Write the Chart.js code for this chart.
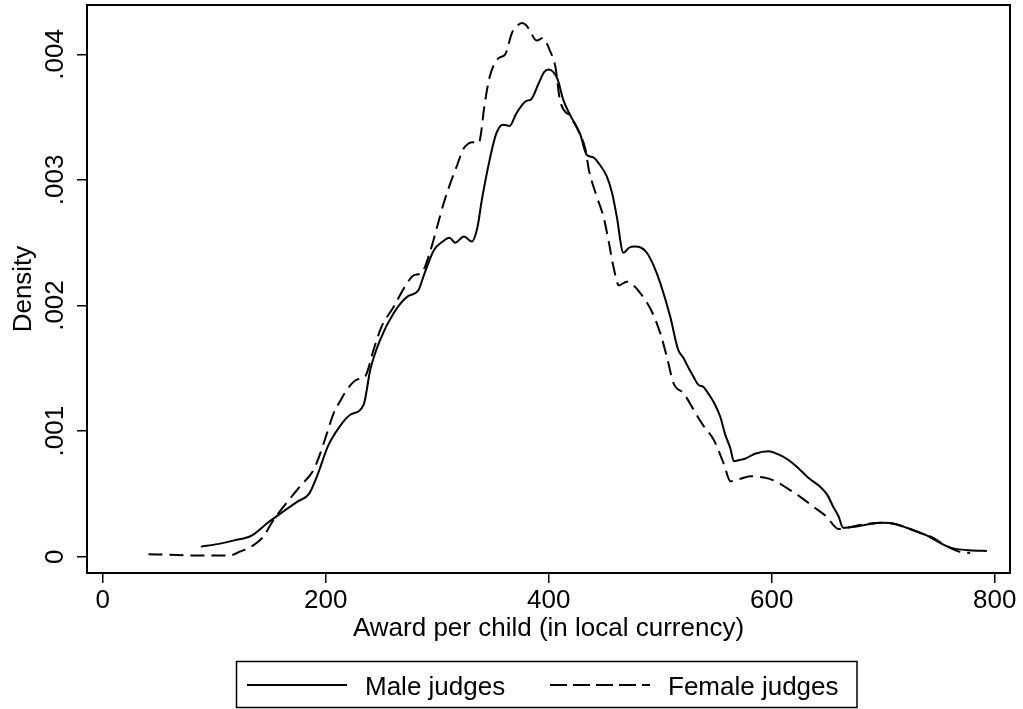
<!DOCTYPE html>
<html>
<head>
<meta charset="utf-8">
<script src="https://cdn.jsdelivr.net/npm/chart.js@4/dist/chart.umd.min.js"></script>
<style>
  html, body { margin: 0; padding: 0; background: #fff; }
  canvas { display: block; }
</style>
</head>
<body>
<canvas id="chart" width="1023" height="709"></canvas>
<script>
// Kernel density of the award per child, by judge gender
const maleX = [88, 103, 118, 134, 148, 162, 175, 185, 193, 202, 212, 222, 234, 240, 249, 261, 273, 283, 288, 297,
  305, 311, 316, 324, 331, 336, 340, 347, 353, 359, 365, 371, 380, 384, 391, 396, 400, 404, 408, 413,
  419, 428, 434, 440, 445, 452, 457, 461, 467, 472, 477, 483, 488, 494, 500, 509, 516, 521, 525, 530,
  534, 539, 543, 548, 554, 558, 563, 566, 571, 576, 585, 597, 607, 615, 622, 634, 643, 650, 655, 660,
  664, 676, 688, 700, 711, 721, 730, 739, 745, 751, 758, 766, 780, 793];
const maleY = [0.00008, 0.0001, 0.00013, 0.00017, 0.00027, 0.00036, 0.00044, 0.0005, 0.00066, 0.00088, 0.00103, 0.00113, 0.00121, 0.00149, 0.00173, 0.00194, 0.00207, 0.00212, 0.00224, 0.00244,
  0.00251, 0.00254, 0.0025, 0.00255, 0.00251, 0.00262, 0.00284, 0.00316, 0.00337, 0.00344, 0.00343, 0.00353, 0.00363, 0.00364, 0.00377, 0.00386, 0.00388, 0.00386, 0.0038, 0.00364,
  0.00352, 0.00337, 0.0032, 0.00318, 0.00313, 0.00303, 0.00289, 0.00271, 0.00242, 0.00246, 0.00247, 0.00246, 0.00242, 0.00232, 0.00218, 0.00191, 0.00165, 0.00158, 0.00151, 0.00143,
  0.00137, 0.00135, 0.0013, 0.00123, 0.00111, 0.00098, 0.00086, 0.00076, 0.00077, 0.00078, 0.00082, 0.00084, 0.00081, 0.00077, 0.00072, 0.00062, 0.00056, 0.00049, 0.0004, 0.00032,
  0.00023, 0.00024, 0.00026, 0.00027, 0.00026, 0.00023, 0.0002, 0.00017, 0.00014, 0.00011, 0.00008, 0.00006, 0.00005, 0.000045];

const femaleX = [41, 60, 80, 100, 114, 123, 135, 144, 153, 165, 177, 189, 195, 201, 207, 213, 219, 228, 235, 243,
  250, 261, 271, 279, 286, 294, 300, 306, 312, 318, 323, 328, 332, 337, 343, 347, 355, 361, 367, 372,
  376, 380, 383, 389, 395, 401, 406, 410, 420, 426, 433, 436, 443, 449, 454, 458, 463, 470, 476, 482,
  492, 500, 506, 512, 521, 530, 536, 539, 548, 557, 563, 572, 581, 593, 601, 613, 625, 637, 649, 660,
  667, 685, 703, 721, 733, 745, 752, 760, 768, 778];
const femaleY = [0.00002, 0.000015, 0.00001, 0.00001, 0.00001, 0.00004, 0.00009, 0.00016, 0.00029, 0.00043, 0.00056, 0.00069, 0.00082, 0.00098, 0.00114, 0.00124, 0.00133, 0.00141, 0.00143, 0.00165,
  0.00183, 0.00199, 0.00215, 0.00224, 0.00226, 0.00244, 0.00263, 0.00282, 0.00298, 0.00312, 0.00324, 0.00329, 0.0033, 0.00329, 0.00363, 0.00382, 0.00397, 0.004, 0.00417, 0.00423,
  0.00425, 0.00423, 0.00419, 0.00411, 0.00413, 0.00403, 0.0039, 0.00364, 0.0035, 0.0034, 0.00324, 0.00308, 0.00287, 0.00271, 0.0025, 0.00231, 0.00216, 0.00219, 0.00216, 0.0021,
  0.00196, 0.00178, 0.00159, 0.00138, 0.0013, 0.00117, 0.00108, 0.00104, 0.00093, 0.00074, 0.0006, 0.00062, 0.00064, 0.00063, 0.00061, 0.00055, 0.00048, 0.0004, 0.00032, 0.00022,
  0.00023, 0.00026, 0.00027, 0.00023, 0.00019, 0.00015, 0.00011, 0.00007, 0.00004, 0.00003];

const seriesNames = ['Male judges', 'Female judges'];
const xTicks = [0, 200, 400, 600, 800];
const yTicks = [0, 0.001, 0.002, 0.003, 0.004];
const yTickLabels = ['0', '.001', '.002', '.003', '.004'];
const xTitle = 'Award per child (in local currency)';
const yTitle = 'Density';

const FONT = "'Liberation Sans', Arial, Helvetica, sans-serif";
const FS = 26;

const toPoints = (xs, ys) => xs.map((x, i) => ({ x: x, y: ys[i] }));

// Box around the plot region, rotated y tick labels and the boxed legend
const decorations = {
  id: 'decorations',
  afterDraw(chart) {
    const { ctx, chartArea: a } = chart;
    ctx.save();
    ctx.strokeStyle = '#000';
    ctx.lineWidth = 2;
    ctx.strokeRect(a.left, a.top, a.right - a.left, a.bottom - a.top);

    // y tick labels, reading bottom to top
    const ys = chart.scales.y;
    ctx.fillStyle = '#000';
    ctx.font = FS + 'px ' + FONT;
    ctx.textAlign = 'center';
    ctx.textBaseline = 'alphabetic';
    yTicks.forEach((v, i) => {
      const py = ys.getPixelForValue(v);
      ctx.save();
      ctx.translate(63, py);
      ctx.rotate(-Math.PI / 2);
      ctx.fillText(yTickLabels[i], 0, 0);
      ctx.restore();
    });

    // legend
    ctx.lineWidth = 1.5;
    ctx.strokeRect(236.5, 661.5, 620.5, 46);
    const entries = [
      { x0: 247, x1: 347, tx: 365 },
      { x0: 550, x1: 650, tx: 668 }
    ];
    chart.data.datasets.forEach((ds, i) => {
      const e = entries[i];
      ctx.save();
      ctx.strokeStyle = ds.borderColor;
      ctx.lineWidth = 2;
      ctx.setLineDash(ds.borderDash && ds.borderDash.length ? [17, 6] : []);
      ctx.beginPath();
      ctx.moveTo(e.x0, 685);
      ctx.lineTo(e.x1, 685);
      ctx.stroke();
      ctx.restore();
      ctx.textAlign = 'left';
      ctx.fillText(ds.label, e.tx, 695);
    });
    ctx.restore();
  }
};

new Chart(document.getElementById('chart'), {
  type: 'line',
  data: {
    datasets: [
      {
        label: seriesNames[0],
        data: toPoints(maleX, maleY),
        borderColor: '#000',
        borderWidth: 2,
        pointRadius: 0,
        fill: false,
        cubicInterpolationMode: 'monotone'
      },
      {
        label: seriesNames[1],
        data: toPoints(femaleX, femaleY),
        borderColor: '#000',
        borderWidth: 2,
        borderDash: [14, 7],
        pointRadius: 0,
        fill: false,
        cubicInterpolationMode: 'monotone'
      }
    ]
  },
  options: {
    responsive: false,
    animation: false,
    events: [],
    layout: { padding: { top: 5, right: 13, left: 0, bottom: 0 } },
    plugins: {
      legend: { display: false },
      tooltip: { enabled: false }
    },
    scales: {
      x: {
        type: 'linear',
        min: -14.1,
        max: 813.7,
        afterBuildTicks: (s) => { s.ticks = xTicks.map(v => ({ value: v })); },
        afterFit: (s) => { s.height = 136; },
        grid: { drawOnChartArea: false, drawTicks: true, tickLength: 10, color: '#000', lineWidth: 1.5 },
        border: { display: false },
        ticks: {
          padding: 2,
          maxRotation: 0,
          autoSkip: false,
          color: '#000',
          font: { family: FONT, size: FS },
          callback: (v) => String(v)
        },
        title: {
          display: true,
          text: xTitle,
          color: '#000',
          font: { family: FONT, size: FS },
          padding: { top: 0, bottom: 64.4 }
        }
      },
      y: {
        type: 'linear',
        min: -0.00013,
        max: 0.004393,
        afterBuildTicks: (s) => { s.ticks = yTicks.map(v => ({ value: v })); },
        afterFit: (s) => { s.width = 87; },
        grid: { drawOnChartArea: false, drawTicks: true, tickLength: 10, color: '#000', lineWidth: 1.5 },
        border: { display: false },
        ticks: { display: false },
        title: {
          display: true,
          text: yTitle,
          color: '#000',
          font: { family: FONT, size: FS },
          padding: { top: 8.4, bottom: 0 }
        }
      }
    }
  },
  plugins: [decorations]
});
</script>
</body>
</html>
